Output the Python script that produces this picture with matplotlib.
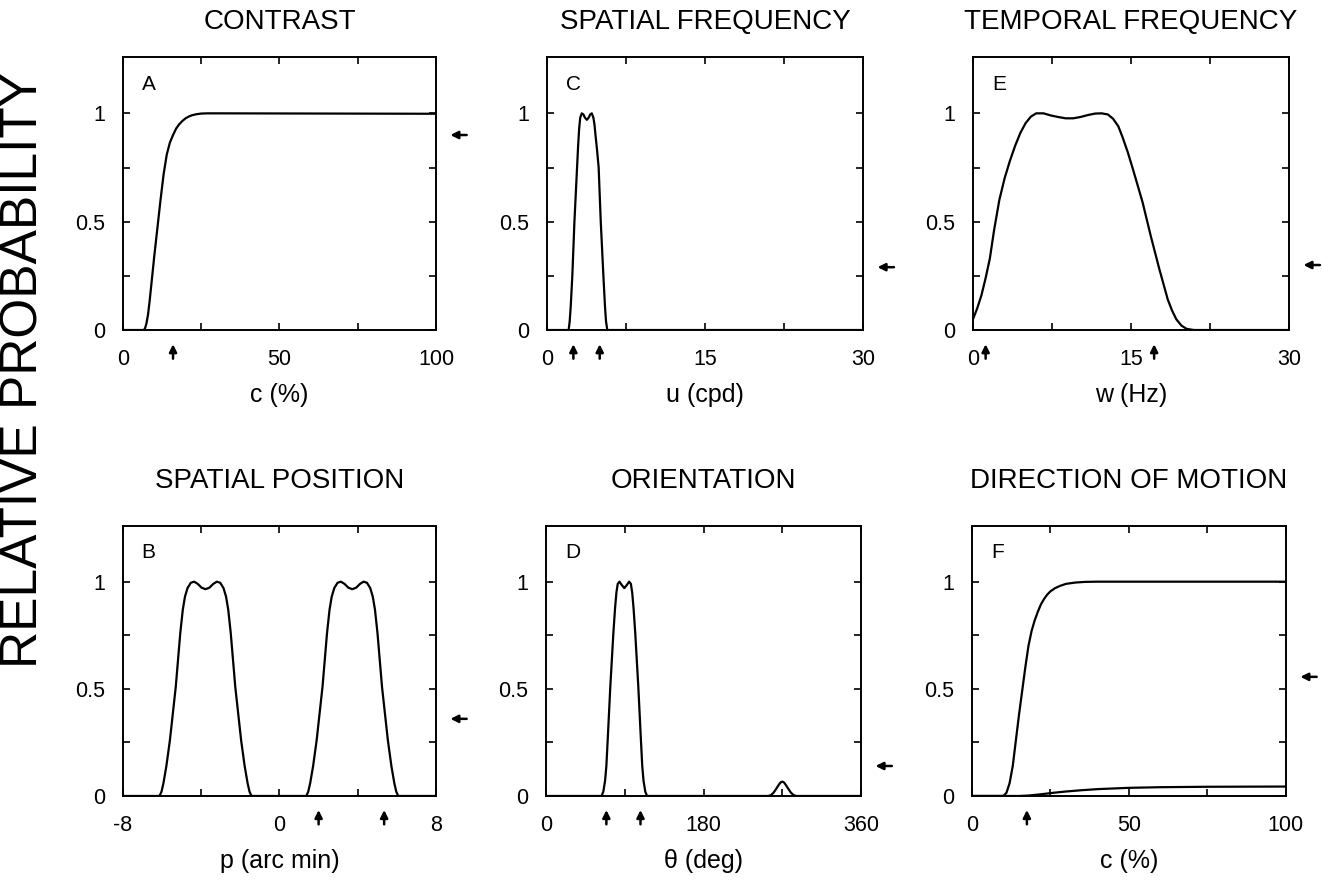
import matplotlib

matplotlib.use("Agg")
import matplotlib.pyplot as plt

plt.rcParams["font.family"] = ["Liberation Sans", "DejaVu Sans"]

# A: contrast
contrast_c = [0, 6.5, 7, 7.5, 8, 8.5, 9, 10, 11, 12, 13, 14, 15, 16, 17, 18, 19, 20,
              21, 22, 23.5, 25, 27, 30, 100]
contrast_prob = [0, 0, 0.005, 0.03, 0.07, 0.13, 0.2, 0.34, 0.47, 0.6, 0.72, 0.81,
                 0.865, 0.9, 0.93, 0.95, 0.965, 0.977, 0.985, 0.991, 0.996, 0.999,
                 1.0, 1.0, 0.998]

# C: spatial frequency
spatial_u = [0, 2.05, 2.15, 2.25, 2.4, 2.6, 2.85, 2.95, 3.05, 3.15, 3.3, 3.45, 3.6,
             3.78, 3.95, 4.1, 4.25, 4.4, 4.5, 4.6, 4.75, 4.9, 5.1, 5.35, 5.5, 5.6,
             5.72, 30]
spatial_prob = [0, 0, 0.04, 0.11, 0.25, 0.5, 0.75, 0.85, 0.93, 0.98, 1.0, 0.995,
                0.98, 0.97, 0.98, 0.995, 1.0, 0.98, 0.95, 0.9, 0.83, 0.75, 0.5, 0.25,
                0.11, 0.04, 0, 0]

# E: temporal frequency
temporal_w = [0, 0.4, 0.8, 1.2, 1.6, 2.0, 2.5, 3.0, 3.5, 4.0, 4.5, 5.0, 5.5, 6.0,
              6.7, 7.4, 8.1, 8.8, 9.5, 10.2, 10.9, 11.6, 12.2, 12.8, 13.3, 13.8,
              14.2, 14.7, 15.2, 16.1, 16.9, 17.7, 18.5, 18.9, 19.3, 19.8, 20.3,
              21.0, 30]
temporal_prob = [0.05, 0.1, 0.16, 0.24, 0.33, 0.46, 0.6, 0.7, 0.78, 0.85, 0.91,
                 0.955, 0.985, 1.0, 1.0, 0.99, 0.983, 0.977, 0.977, 0.983, 0.992,
                 0.999, 1.0, 0.995, 0.975, 0.94, 0.89, 0.82, 0.74, 0.59, 0.43, 0.28,
                 0.14, 0.09, 0.05, 0.02, 0.005, 0, 0]

# B: spatial position (two stimulus locations)
position_p = [-8,
              -6.13, -6.03, -5.93, -5.78, -5.6, -5.3, -5.07, -4.94, -4.83, -4.7,
              -4.53, -4.36, -4.18, -3.98, -3.78, -3.58, -3.38, -3.2, -3.03, -2.86,
              -2.73, -2.62, -2.49, -2.26, -1.96, -1.78, -1.63, -1.53, -1.43,
              1.37, 1.47, 1.57, 1.72, 1.9, 2.2, 2.43, 2.56, 2.67, 2.8,
              2.97, 3.14, 3.32, 3.52, 3.72, 3.92, 4.12, 4.3, 4.47, 4.64,
              4.77, 4.88, 5.01, 5.24, 5.54, 5.72, 5.87, 5.97, 6.07,
              8]
position_prob = [0,
                 0, 0.02, 0.06, 0.14, 0.26, 0.51, 0.76, 0.87, 0.93, 0.97,
                 0.995, 1.0, 0.99, 0.972, 0.965, 0.972, 0.99, 1.0, 0.995, 0.97,
                 0.93, 0.87, 0.76, 0.51, 0.26, 0.14, 0.06, 0.02, 0,
                 0, 0.02, 0.06, 0.14, 0.26, 0.51, 0.76, 0.87, 0.93, 0.97,
                 0.995, 1.0, 0.99, 0.972, 0.965, 0.972, 0.99, 1.0, 0.995, 0.97,
                 0.93, 0.87, 0.76, 0.51, 0.26, 0.14, 0.06, 0.02, 0,
                 0]

# D: orientation
orient_theta = [0,
                63.5, 65.5, 67.5, 69, 70.5, 73.5, 77, 79, 80.5, 82, 84, 86.5, 89.5,
                92.5, 95, 97, 98.5, 100, 102, 105.5, 108.5, 110, 111.5, 113.5, 115.5,
                254, 257, 260, 263, 266, 268, 270, 272, 274, 277, 280, 283, 286,
                360]
orient_prob = [0,
               0, 0.02, 0.07, 0.14, 0.26, 0.51, 0.76, 0.88, 0.95, 0.99, 1.0, 0.985,
               0.97, 0.985, 1.0, 0.99, 0.95, 0.88, 0.76, 0.51, 0.26, 0.14, 0.07,
               0.02, 0,
               0, 0.004, 0.015, 0.033, 0.052, 0.063, 0.067, 0.063, 0.052, 0.033,
               0.015, 0.004, 0,
               0]

# F: direction of motion (correct and opposite direction)
motion_c = [0, 10, 11, 12, 13, 14, 15, 16, 17, 18, 19, 20, 21, 22, 23, 24, 25, 26.5,
            28, 30, 33, 36, 40, 100]
motion_prob = [0, 0, 0.015, 0.06, 0.14, 0.26, 0.38, 0.49, 0.6, 0.7, 0.77, 0.82,
               0.86, 0.895, 0.92, 0.94, 0.955, 0.97, 0.98, 0.99, 0.996, 0.999, 1.0,
               1.0]
motion_opp_c = [0, 15, 18, 22, 26, 30, 35, 40, 50, 60, 75, 100]
motion_opp_prob = [0, 0, 0.002, 0.008, 0.015, 0.021, 0.027, 0.032, 0.038, 0.041,
                   0.043, 0.044]

# threshold markers: arrows under x axis and at the right side
contrast_marks = [16]
contrast_side = 0.9
spatial_marks = [2.5, 5.0]
spatial_side = 0.29
temporal_marks = [1.2, 17.2]
temporal_side = 0.30
position_marks = [2.0, 5.35]
position_side = 0.36
orient_marks = [69, 108]
orient_side = 0.14
motion_marks = [17.5]
motion_side = 0.556


def _draw_panel(fig, rect, title, letter, xlabel, xlim, xticks, xticklabels,
                curves, marks, side, title_pad):
    ax = fig.add_axes(rect)
    for xs, ys in curves:
        ax.plot(xs, ys, color="black", lw=1.6, solid_joinstyle="round")

    ax.set_xlim(*xlim)
    ax.set_ylim(0, 1.26)
    ax.set_xticks(xticks)
    ax.set_xticklabels(xticklabels)
    ax.set_yticks([0, 0.25, 0.5, 0.75, 1])
    ax.set_yticklabels(["0", "", "0.5", "", "1"])
    ax.tick_params(direction="in", length=5, width=1.2, top=True, right=True,
                   labelsize=15.5)
    ax.tick_params(axis="x", pad=14)
    ax.tick_params(axis="y", pad=13)
    for spine in ax.spines.values():
        spine.set_linewidth(1.4)

    ax.set_title(title, fontsize=20, pad=title_pad)
    ax.set_xlabel(xlabel, fontsize=18, labelpad=9)
    ax.text(0.06, 0.9, letter, transform=ax.transAxes, fontsize=15,
            ha="left", va="center")

    arrow = dict(arrowstyle="-|>", color="black", lw=1.8, mutation_scale=11,
                 shrinkA=0, shrinkB=0)
    for x in marks:
        ax.annotate("", xy=(x, -0.052), xytext=(x, -0.105),
                    xycoords=("data", "axes fraction"),
                    textcoords=("data", "axes fraction"),
                    arrowprops=arrow, annotation_clip=False)
    ax.annotate("", xy=(1.046, side), xytext=(1.098, side),
                xycoords=("axes fraction", "data"),
                textcoords=("axes fraction", "data"),
                arrowprops=arrow, annotation_clip=False)
    return ax


fig = plt.figure(figsize=(13.22, 8.81), dpi=100)

top_y, top_h = 0.6254, 0.3099
bot_y, bot_h = 0.0965, 0.3065

_draw_panel(fig, [0.0930, top_y, 0.2368, top_h], "CONTRAST", "A", "c (%)",
            (0, 100), [0, 25, 50, 75, 100], ["0", "", "50", "", "100"],
            [(contrast_c, contrast_prob)], contrast_marks, contrast_side, 20)
_draw_panel(fig, [0.4138, top_y, 0.2390, top_h], "SPATIAL FREQUENCY", "C", "u (cpd)",
            (0, 30), [0, 7.5, 15, 22.5, 30], ["0", "", "15", "", "30"],
            [(spatial_u, spatial_prob)], spatial_marks, spatial_side, 20)
_draw_panel(fig, [0.7360, top_y, 0.2390, top_h], "TEMPORAL FREQUENCY", "E", "w (Hz)",
            (0, 30), [0, 7.5, 15, 22.5, 30], ["0", "", "15", "", "30"],
            [(temporal_w, temporal_prob)], temporal_marks, temporal_side, 20)
_draw_panel(fig, [0.0930, bot_y, 0.2368, bot_h], "SPATIAL POSITION", "B", "p (arc min)",
            (-8, 8), [-8, -4, 0, 4, 8], ["-8", "", "0", "", "8"],
            [(position_p, position_prob)], position_marks, position_side, 27)
_draw_panel(fig, [0.4130, bot_y, 0.2383, bot_h], "ORIENTATION", "D", "θ (deg)",
            (0, 360), [0, 90, 180, 270, 360], ["0", "", "180", "", "360"],
            [(orient_theta, orient_prob)], orient_marks, orient_side, 27)
_draw_panel(fig, [0.7352, bot_y, 0.2375, bot_h], "DIRECTION OF MOTION", "F", "c (%)",
            (0, 100), [0, 25, 50, 75, 100], ["0", "", "50", "", "100"],
            [(motion_c, motion_prob), (motion_opp_c, motion_opp_prob)],
            motion_marks, motion_side, 27)

fig.text(0.018, 0.58, "RELATIVE PROBABILITY", rotation=90, fontsize=37,
         ha="center", va="center")

fig.savefig("out.png", dpi=100)
